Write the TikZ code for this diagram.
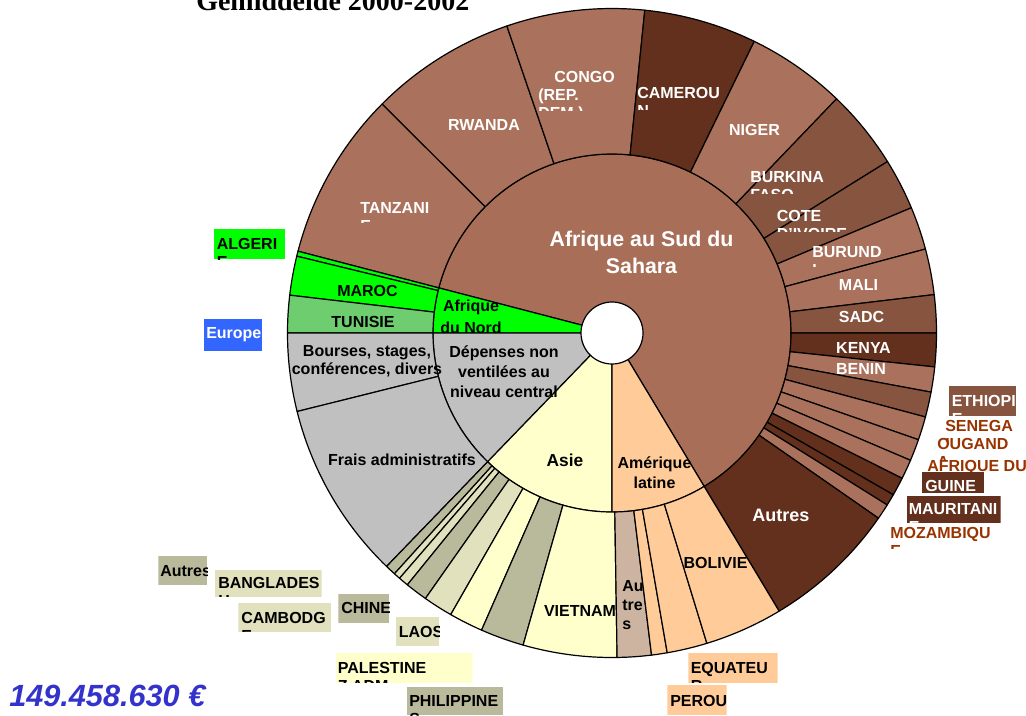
\documentclass[tikz,border=0pt]{standalone}
\usepackage{fontspec}
\setmainfont{Liberation Sans}
\newfontfamily\titlefont{Liberation Serif}
\usetikzlibrary{calc}

% palette
\definecolor{brLight}{RGB}{170,114,92}
\definecolor{brInner}{RGB}{168,110,88}
\definecolor{brMid}{RGB}{135,84,64}
\definecolor{brDark}{RGB}{98,48,28}
\definecolor{brText}{RGB}{153,51,0}
\definecolor{nGreen}{RGB}{0,255,0}
\definecolor{tunGreen}{RGB}{110,205,110}
\definecolor{gris}{RGB}{192,192,192}
\definecolor{asie}{RGB}{255,255,204}
\definecolor{asieDark}{RGB}{185,185,155}
\definecolor{asieLight}{RGB}{225,225,190}
\definecolor{amLat}{RGB}{255,204,153}
\definecolor{amAutres}{RGB}{205,180,160}
\definecolor{europe}{RGB}{51,102,255}
\definecolor{totalBlue}{RGB}{51,51,204}

\tikzset{
  seg/.style={draw=black, line width=0.9pt, line join=round},
  lab/.style={font=\bfseries\fontsize{12}{13.5}\selectfont, inner sep=0pt, align=left},
  mlab/.style={font=\bfseries\fontsize{12}{13.5}\selectfont, inner sep=0pt, align=center},
}

% annular sector: inner r, outer r, from angle, to angle, fill
\newcommand\ringpart[5]{%
  \pgfmathsetmacro\angA{-(#3)}\pgfmathsetmacro\angB{-(#4)}%
  \filldraw[seg,fill=#5] ($(C)+(\angA:#1)$) arc[start angle=\angA, end angle=\angB, radius=#1]
    -- ($(C)+(\angB:#2)$) arc[start angle=\angB, end angle=\angA, radius=#2] -- cycle;}
% pie slice: radius, from angle, to angle, fill
\newcommand\piepart[4]{%
  \pgfmathsetmacro\angA{-(#2)}\pgfmathsetmacro\angB{-(#3)}%
  \filldraw[seg,fill=#4] (C) -- ($(C)+(\angA:#1)$) arc[start angle=\angA, end angle=\angB, radius=#1] -- cycle;}
% clipped label box: name, top-left, bottom-right, box style, text colour, text corner, text
\newcommand\boxlab[7]{%
  \begin{scope}
    \clip (#2) rectangle (#3);
    \fill[#4] (#2) rectangle (#3);
    \node[lab, text=#5, anchor=north west] (#1) at (#6) {#7};
  \end{scope}}

\begin{document}
\begin{tikzpicture}[x=0.75pt, y=-0.75pt]
\useasboundingbox (0,0) rectangle (1026,715);
\clip (0,0) rectangle (1026,715);
\coordinate (C) at (612,333);

% inner ring
\piepart{179}{-59}{165.4}{brInner}
\piepart{179}{165.4}{180}{nGreen}
\piepart{179}{180}{226}{gris}
\piepart{179}{226}{270}{asie}
\piepart{179}{270}{301}{amLat}

% outer ring: Afrique au Sud du Sahara
\ringpart{179}{324.5}{135.1}{165.4}{brLight}
\ringpart{179}{324.5}{108.9}{135.1}{brLight}
\ringpart{179}{324.5}{84.2}{108.9}{brLight}
\ringpart{179}{324.5}{64}{84.2}{brDark}
\ringpart{179}{324.5}{46.2}{64}{brLight}
\ringpart{179}{324.5}{31.9}{46.2}{brMid}
\ringpart{179}{324.5}{22.7}{31.9}{brMid}
\ringpart{179}{324.5}{15}{22.7}{brLight}
\ringpart{179}{324.5}{6.8}{15}{brLight}
\ringpart{179}{324.5}{0}{6.8}{brMid}
\ringpart{179}{324.5}{-6}{0}{brDark}
\ringpart{179}{324.5}{-10.5}{-6}{brLight}
\ringpart{179}{324.5}{-15}{-10.5}{brMid}
\ringpart{179}{324.5}{-19.2}{-15}{brLight}
\ringpart{179}{324.5}{-23.1}{-19.2}{brLight}
\ringpart{179}{324.5}{-26.6}{-23.1}{brLight}
\ringpart{179}{324.5}{-29.9}{-26.6}{brDark}
\ringpart{179}{324.5}{-32}{-29.9}{brDark}
\ringpart{179}{324.5}{-34.8}{-32}{brLight}
\ringpart{179}{324.5}{-59}{-34.8}{brDark}
% Afrique du Nord
\ringpart{179}{324.5}{165.4}{166.3}{nGreen}
\ringpart{179}{324.5}{166.3}{173.3}{nGreen}
\ringpart{179}{324.5}{173.3}{180}{tunGreen}
% depenses centrales
\ringpart{179}{324.5}{180}{194}{gris}
\ringpart{179}{324.5}{194}{226}{gris}
% Asie
\ringpart{179}{324.5}{226}{227.9}{asieDark}
\ringpart{179}{324.5}{227.9}{229.1}{asieLight}
\ringpart{179}{324.5}{229.1}{230.9}{asieLight}
\ringpart{179}{324.5}{230.9}{234.9}{asieDark}
\ringpart{179}{324.5}{234.9}{240.2}{asieLight}
\ringpart{179}{324.5}{240.2}{246.3}{asie}
\ringpart{179}{324.5}{246.3}{254.1}{asieDark}
\ringpart{179}{324.5}{254.1}{270.9}{asie}
% Amerique latine
\ringpart{179}{324.5}{270.9}{277}{amAutres}
\ringpart{179}{324.5}{277}{279.8}{amLat}
\ringpart{179}{324.5}{279.8}{287}{amLat}
\ringpart{179}{324.5}{287}{301}{amLat}

% central hole
\filldraw[seg, fill=white] (C) circle (31);

% inner ring labels
\node[mlab, text=white, font=\bfseries\fontsize{16}{20}\selectfont, anchor=north] (ass) at (641.5,231) {Afrique au Sud du\\Sahara};
\node[mlab, font=\bfseries\fontsize{12}{16}\selectfont, anchor=north] (anord) at (471,300) {Afrique\\du Nord};
\node[mlab, font=\bfseries\fontsize{12}{15}\selectfont, anchor=north] (depc) at (504,345) {Dépenses non\\ventilées au\\niveau central};
\node[mlab, font=\bfseries\fontsize{13}{15}\selectfont, anchor=base] (asiel) at (565,466) {Asie};
\node[mlab, font=\bfseries\fontsize{12}{15}\selectfont, anchor=north] (amlat) at (654.5,456.5) {Amérique\\latine};

% outer ring labels
\boxlab{tanz}{350,195}{440,222}{fill=none}{white}{360,202}{TANZANI\\E}
\node[lab, text=white, anchor=base] (rwanda) at (484,130) {RWANDA};
\boxlab{congo}{530,60}{625,110}{fill=none}{white}{538,71}{\hspace*{12pt}CONGO\\(REP.\\DEM.)}
\boxlab{camer}{630,78}{725,109}{fill=none}{white}{637,87.5}{CAMEROU\\N}
\node[lab, text=white, anchor=base] (niger) at (754.5,135) {NIGER};
\boxlab{burk}{745,162}{830,193}{fill=none}{white}{750,171}{BURKINA\\FASO}
\boxlab{cote}{770,200}{850,231}{fill=none}{white}{776.5,210}{COTE\\D'IVOIRE}
\boxlab{burun}{805,238}{890,266}{fill=none}{white}{812,246}{BURUND\\I}
\node[lab, text=white, anchor=base] (mali) at (858.5,290.5) {MALI};
\node[lab, text=white, anchor=base] (sadc) at (861.5,322.5) {SADC};
\node[lab, text=white, anchor=base] (kenya) at (863.5,353.5) {KENYA};
\node[lab, text=white, anchor=base] (benin) at (861,374.5) {BENIN};
\node[lab, text=white, font=\bfseries\fontsize{13.5}{15}\selectfont, anchor=base] (autass) at (781,521.5) {Autres};
\node[lab, anchor=base] (maroc) at (367.5,296.7) {MAROC};
\node[lab, anchor=base] (tunis) at (363,327.5) {TUNISIE};
\node[mlab, anchor=north] (bourses) at (367,345) {Bourses, stages,\\conférences, divers};
\node[lab, anchor=base] (frais) at (402,465) {Frais administratifs};
\node[lab, anchor=base] (vietnam) at (580,616.5) {VIETNAM};
\node[lab, font=\bfseries\fontsize{12}{14.4}\selectfont, anchor=north west] (autam) at (622,580) {Au\\tre\\s};
\node[lab, anchor=base] (bolivie) at (715.5,568.3) {BOLIVIE};

% outside labels
\boxlab{algerie}{214,229}{285,259}{fill=nGreen}{black}{216.5,238}{ALGERI\\E}
\boxlab{europe}{204,319}{262,351}{fill=europe}{white}{206,327.5}{Europe}
\boxlab{ethiop}{949,386}{1016,416}{fill=brMid}{white}{951.5,395}{ETHIOPI\\E}
\boxlab{seneg}{940,412}{1020,441}{fill=none}{brText}{945,420}{SENEGA\\L}
\boxlab{ougan}{930,430}{1012,459}{fill=none}{brText}{937,438.5}{OUGAND\\A}
\boxlab{afsud}{920,451}{1026,481}{fill=none}{brText}{927,460}{AFRIQUE DU\\SUD}
\boxlab{guinee}{921.7,471.7}{984,493.3}{fill=brDark}{white}{925,480}{GUINE\\E}
\boxlab{maurit}{906.7,495.7}{1000.7,523.3}{fill=brDark}{white}{908.5,503.3}{MAURITANI\\E}
\boxlab{mozamb}{885,518}{995,548}{fill=none}{brText}{890,527}{MOZAMBIQU\\E}
\boxlab{autasie}{158.3,556}{207.3,585}{fill=asieDark}{black}{160,565}{Autres}
\boxlab{bangl}{215,570}{321.7,596.7}{fill=asieLight}{black}{218,577.5}{BANGLADES\\H}
\boxlab{camb}{238.3,603.3}{331,631.7}{fill=asieLight}{black}{241,612}{CAMBODG\\E}
\boxlab{chine}{338.3,594}{389,622.7}{fill=asieDark}{black}{341,602.5}{CHINE}
\boxlab{laos}{396,616.7}{439.3,645.7}{fill=asieLight}{black}{398.5,626.5}{LAOS}
\boxlab{palest}{335.7,653.3}{472.7,682.7}{fill=asie}{black}{337.5,662}{PALESTINE\\Z.ADM}
\boxlab{philip}{406.7,686.7}{503.3,715}{fill=asieDark}{black}{409,695}{PHILIPPINE\\S}
\boxlab{equat}{688.3,653.3}{777.7,682.7}{fill=amLat}{black}{690.5,662}{EQUATEU\\R}
\boxlab{perou}{667.3,685}{726.7,715}{fill=amLat}{black}{670,695}{PEROU}

% title and total
\node[inner sep=0pt, anchor=base west, font=\titlefont\bfseries\fontsize{21}{24}\selectfont] (title) at (196,10) {Gemiddelde 2000-2002};
\node[inner sep=0pt, anchor=base west, text=totalBlue, font=\bfseries\itshape\fontsize{23}{26}\selectfont] (total) at (9,706.5) {149.458.630 €};
\end{tikzpicture}
\end{document}
